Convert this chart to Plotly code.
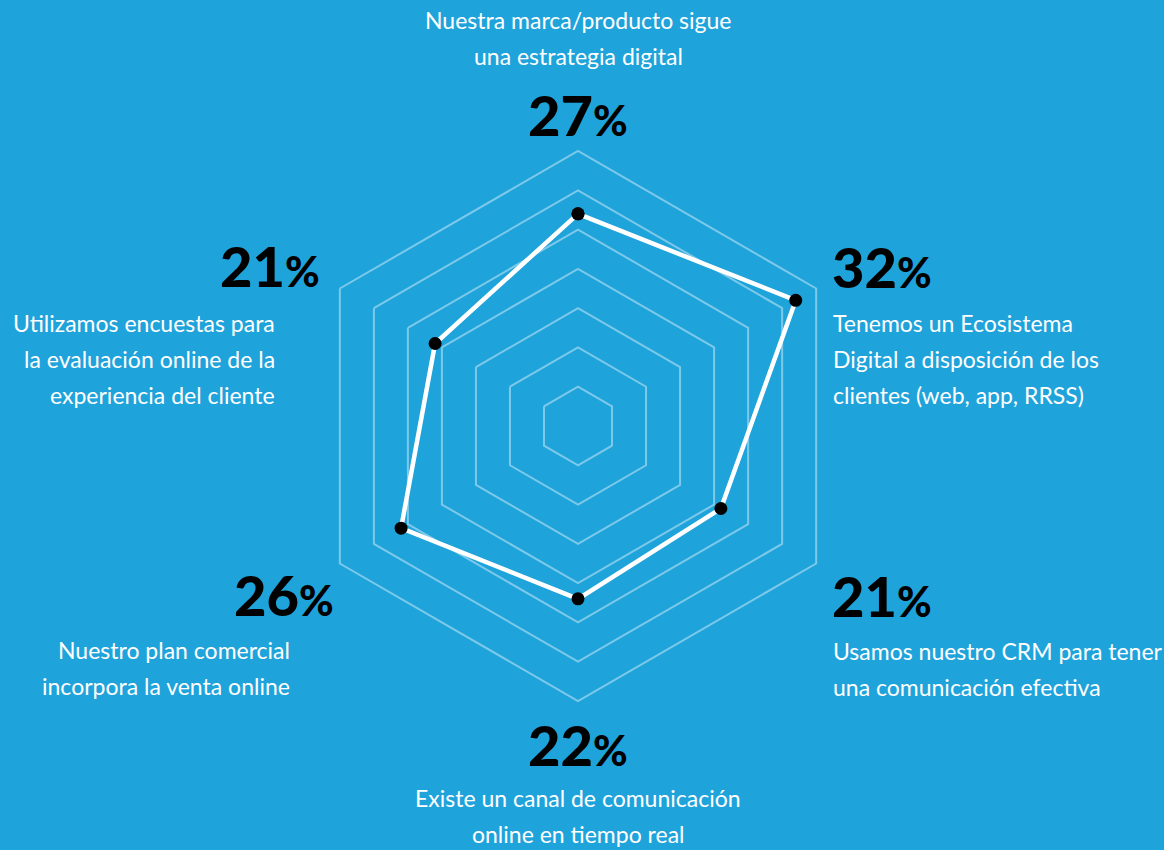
import plotly.graph_objects as go

# Canvas and palette
W, H = 1164, 850
BG = "#1FA3DB"
GRID = "rgba(255,255,255,0.42)"

# Survey results (share of respondents, %)
categories = [
    "Estrategia digital",
    "Ecosistema digital",
    "CRM",
    "Canal online",
    "Venta online",
    "Encuestas",
]
values = [27, 32, 21, 22, 26, 21]

descriptions = [
    ["Nuestra marca/producto sigue", "una estrategia digital"],
    ["Tenemos un Ecosistema", "Digital a disposición de los", "clientes (web, app, RRSS)"],
    ["Usamos nuestro CRM para tener", "una comunicación efectiva"],
    ["Existe un canal de comunicación", "online en tiempo real"],
    ["Nuestro plan comercial", "incorpora la venta online"],
    ["Utilizamos encuestas para", "la evaluación online de la", "experiencia del cliente"],
]

# Placement of each label block in pixels: (x of percent, y of percent, anchor,
# x of description, y of first description line)
placements = [
    (578, 114, "center", 578, 20),
    (830, 266, "left", 831, 323),
    (830, 595, "left", 831, 651),
    (578, 744, "center", 578, 798),
    (336, 594, "right", 292, 650),
    (322, 265, "right", 277, 323),
]
LINE_STEP = 36

# Radar geometry
CX, CY, R = 578, 426, 275

fig = go.Figure()
fig.add_trace(
    go.Scatterpolar(
        r=values + values[:1],
        theta=categories + categories[:1],
        mode="lines+markers",
        line=dict(color="white", width=4.5),
        marker=dict(color="black", size=13, line=dict(width=0)),
        hoverinfo="skip",
        showlegend=False,
    )
)

annotations = []
for v, lines, (px, py, anchor, dx, dy) in zip(values, descriptions, placements):
    annotations.append(
        dict(
            x=px / W, y=1 - py / H, xref="paper", yref="paper",
            xanchor=anchor, yanchor="middle", showarrow=False,
            text=f"{v}<span style='font-size:42px'>%</span>",
            font=dict(family="Lato", size=56, color="black", weight=900),
        )
    )
    for i, line in enumerate(lines):
        annotations.append(
            dict(
                x=dx / W, y=1 - (dy + i * LINE_STEP) / H, xref="paper", yref="paper",
                xanchor=anchor, yanchor="middle", showarrow=False,
                text=line,
                font=dict(family="Lato", size=23, color="white"),
            )
        )

fig.update_layout(
    width=W, height=H,
    margin=dict(l=0, r=0, t=0, b=0),
    paper_bgcolor=BG,
    plot_bgcolor=BG,
    polar=dict(
        bgcolor=BG,
        domain=dict(x=[(CX - R) / W, (CX + R) / W], y=[(H - CY - R) / H, (H - CY + R) / H]),
        gridshape="linear",
        radialaxis=dict(
            range=[0, 35], tick0=0, dtick=5, showticklabels=False, ticks="",
            showline=False, gridcolor=GRID, gridwidth=2,
        ),
        angularaxis=dict(
            rotation=90, direction="clockwise", showticklabels=False, ticks="",
            showgrid=False, showline=True, linecolor=GRID, linewidth=2,
        ),
    ),
    annotations=annotations,
)

fig.write_html("out.html")
